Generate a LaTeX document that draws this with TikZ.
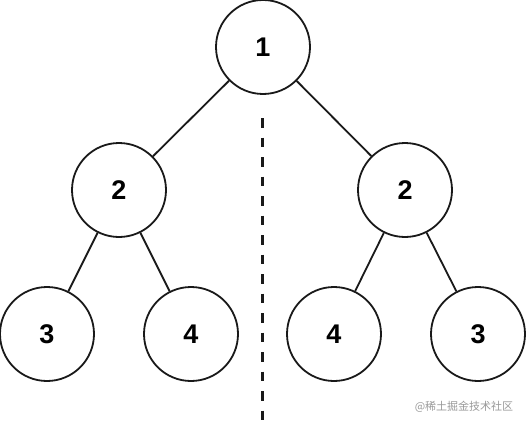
\documentclass[tikz,border=0pt]{standalone}
\usepackage{fontspec}
\setmainfont{Liberation Sans}
\newfontfamily\cjk{Noto Sans CJK SC}
\begin{document}
\begin{tikzpicture}[x=1pt,y=-1pt,
  tn/.style={circle,draw=black!90,line width=1.8pt,minimum size=94pt,inner sep=0pt,font=\bfseries\fontsize{27}{30}\selectfont},
  ed/.style={draw=black!90,line width=1.8pt}]
\useasboundingbox (0,0) rectangle (526,425);
\node[tn] (n1) at (263,47) {1};
\node[tn] (l2) at (119,190) {2};
\node[tn] (r2) at (405,190) {2};
\node[tn] (l3) at (47,334) {3};
\node[tn] (l4) at (191,334) {4};
\node[tn] (r4) at (334,334) {4};
\node[tn] (r3) at (478,334) {3};
\draw[ed] (n1) -- (l2);
\draw[ed] (n1) -- (r2);
\draw[ed] (l2) -- (l3);
\draw[ed] (l2) -- (l4);
\draw[ed] (r2) -- (r4);
\draw[ed] (r2) -- (r3);
\coordinate (dtop) at (262.5,118);
\coordinate (dbot) at (262.5,425);
\draw[black!90,line width=2.8pt,dash pattern=on 9.5pt off 10pt] (dtop) -- (dbot);
\node[text=black!40,font=\cjk\fontsize{11}{13}\selectfont,anchor=center] (wm) at (464,407) {@稀土掘金技术社区};
\end{tikzpicture}
\end{document}
